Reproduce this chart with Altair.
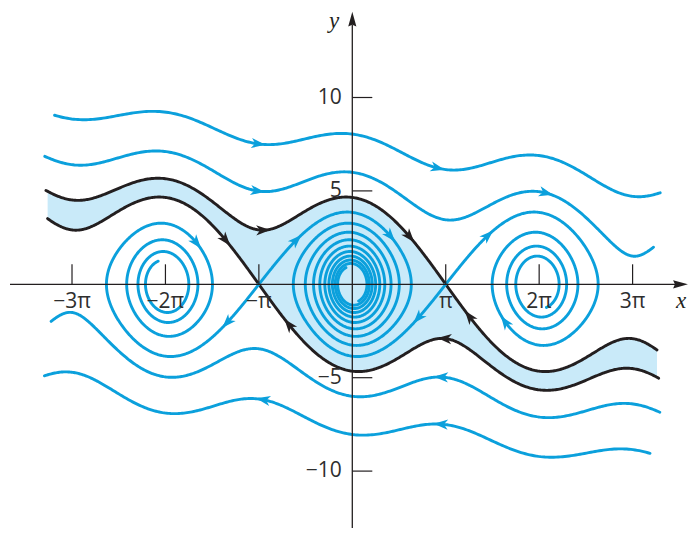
import math
import numpy as np
import pandas as pd
import altair as alt

# ---------------- model: x' = y, y' = -w2*sin(x) - g*y
OMEGA2 = 4.5
GAMMA = 0.2

# ---------------- trajectories (start points / end x)
wave_names = ["A", "B", "A2", "B2"]
wave_x0 = [-10.01, -10.34, 10.01, 10.34]
wave_y0 = [9.05, 6.85, -9.05, -6.85]
wave_xend = [10.35, 10.12, -10.35, -10.12]

# stable manifolds of the saddles (black separatrices)
sep_names = ["C", "D", "C2", "D2"]
sep_saddle = [math.pi, -math.pi, -math.pi, math.pi]
sep_side = [-1, -1, 1, 1]
sep_xend = [-10.29, -10.24, 10.29, 10.24]

# unstable manifolds of the saddles (blue, spiralling into the foci)
uns_names = ["U1", "U2", "U1b", "U2b"]
uns_saddle = [math.pi, math.pi, -math.pi, -math.pi]
uns_side = [1, -1, -1, 1]
uns_eend = [0.9, 0.5, 0.9, 0.5]

# arrowheads: curve, x, y (data units)
arrow_curve = ["A", "A", "B", "B", "A2", "A2", "B2", "C", "C", "D", "C2", "C2", "D2",
               "U2b", "U1", "U2", "U1b", "U2b", "U1b", "U1"]
arrow_x = [-3.161, 2.882, -3.171, 6.513, -2.993, 2.983, 2.983, -2.993, 1.940, -4.223,
           3.107, -2.095, 3.991, -1.870, 4.506, 2.165, -4.223, 1.325, -5.188, 5.124]
arrow_y = [7.516, 6.349, 5.102, 4.904, -6.033, -7.479, -5.016, 2.998, 2.548, 2.409,
           -2.859, -2.088, -1.643, 2.372, 2.730, -1.734, -2.018, 2.639, 2.281, -2.018]

# axis ticks and labels
xtick_vals = [-3 * math.pi, -2 * math.pi, -math.pi, math.pi, 2 * math.pi, 3 * math.pi]
xtick_text = ["\u22123\u03c0", "\u22122\u03c0", "\u2212\u03c0", "\u03c0", "2\u03c0", "3\u03c0"]
ytick_vals = [10, 5, -5, -10]
ytick_text = ["10", "5", "\u22125", "\u221210"]

# ---------------- style
BLUE = "#0ba0dc"
BLACK = "#231f20"
FILL = "#c9eaf9"
TEXT = "#2e2e2e"
W, H = 680, 520
PX_X, PX_Y = 29.74, 18.68          # pixels per data unit
X_DOMAIN = [-344.3 / PX_X, (W - 344.3) / PX_X]
Y_DOMAIN = [(276.3 - H) / PX_Y, 276.3 / PX_Y]


def rhs(x, y):
    return y, -OMEGA2 * math.sin(x) - GAMMA * y


def rk4(x, y, h):
    k1x, k1y = rhs(x, y)
    k2x, k2y = rhs(x + h / 2 * k1x, y + h / 2 * k1y)
    k3x, k3y = rhs(x + h / 2 * k2x, y + h / 2 * k2y)
    k4x, k4y = rhs(x + h * k3x, y + h * k3y)
    return (x + h / 6 * (k1x + 2 * k2x + 2 * k3x + k4x),
            y + h / 6 * (k1y + 2 * k2y + 2 * k3y + k4y))


def run(x, y, h, stop, nmax=400000):
    xs, ys = [x], [y]
    for _ in range(nmax):
        x, y = rk4(x, y, h)
        xs.append(x)
        ys.append(y)
        if stop(x, y):
            break
    return np.array(xs), np.array(ys)


def energy(x, y):
    return y * y / 2 + OMEGA2 * (1 - math.cos(x))


disc = math.sqrt(GAMMA ** 2 + 4 * OMEGA2)
lam_s = (-GAMMA - disc) / 2
lam_u = (-GAMMA + disc) / 2
EPS = 1e-6

curves = {}
kinds = {}
for n, x0, y0, xe in zip(wave_names, wave_x0, wave_y0, wave_xend):
    stop = (lambda x, y, xe=xe: x > xe) if xe > x0 else (lambda x, y, xe=xe: x < xe)
    curves[n] = run(x0, y0, 0.004, stop)
    kinds[n] = "blue"
for n, s, side, xe in zip(sep_names, sep_saddle, sep_side, sep_xend):
    stop = (lambda x, y, xe=xe: x < xe) if side < 0 else (lambda x, y, xe=xe: x > xe)
    curves[n] = run(s + side * EPS, side * EPS * lam_s, -0.004, stop)
    kinds[n] = "black"
for n, s, side, ee in zip(uns_names, uns_saddle, uns_side, uns_eend):
    curves[n] = run(s + side * EPS, side * EPS * lam_u, 0.004,
                    lambda x, y, ee=ee: energy(x, y) < ee)
    kinds[n] = "blue"

rows = []
for n, (xs, ys) in curves.items():
    step = 2
    idx = list(range(0, len(xs), step))
    if idx[-1] != len(xs) - 1:
        idx.append(len(xs) - 1)
    for k, i in enumerate(idx):
        rows.append({"curve": n, "kind": kinds[n], "i": k, "x": xs[i], "y": ys[i]})
lines_df = pd.DataFrame(rows)


# ---------------- shaded basin of attraction
def on_grid(name, grid):
    xs, ys = curves[name]
    o = np.argsort(xs)
    return np.interp(grid, xs[o], ys[o])


gx0 = max(curves["C"][0].min(), curves["D"][0].min())
gx1 = min(curves["C2"][0].max(), curves["D2"][0].max())
grid = np.sort(np.concatenate([np.linspace(gx0, gx1, 900), [-math.pi, math.pi]]))
upper = np.where(grid < math.pi, on_grid("C", grid), on_grid("D2", grid))
lower = np.where(grid < -math.pi, on_grid("D", grid), on_grid("C2", grid))
shade_df = pd.DataFrame({"x": grid, "lo": lower, "hi": upper})

# ---------------- arrowheads on curves
arows = []
for n, ax, ay in zip(arrow_curve, arrow_x, arrow_y):
    xs, ys = curves[n]
    d = ((xs - ax) * PX_X) ** 2 + ((ys - ay) * PX_Y) ** 2
    j = int(np.argmin(d))
    px, py = xs[j], ys[j]
    vx, vy = rhs(px, py)
    ang = math.degrees(math.atan2(-vy * PX_Y, vx * PX_X)) % 360
    arows.append({"x": px, "y": py, "angle": ang, "kind": kinds[n]})
arrows_df = pd.DataFrame(arows)

xs_ = alt.Scale(domain=X_DOMAIN, nice=False, zero=False)
ys_ = alt.Scale(domain=Y_DOMAIN, nice=False, zero=False)
color_scale = alt.Scale(domain=["blue", "black"], range=[BLUE, BLACK])


def X(f):
    return alt.X(f, type="quantitative", scale=xs_, axis=None)


def Y(f):
    return alt.Y(f, type="quantitative", scale=ys_, axis=None)


area = alt.Chart(shade_df).mark_area(color=FILL, interpolate="linear").encode(
    x=X("x"), y=Y("lo"), y2="hi")

lines = alt.Chart(lines_df).mark_line(strokeWidth=2.9, strokeCap="round", strokeJoin="round").encode(
    x=X("x"), y=Y("y"), detail="curve:N", order="i:Q",
    color=alt.Color("kind:N", scale=color_scale, legend=None))

ARROW = "M1,0L-1,-0.72L-0.45,0L-1,0.72Z"
arrows = alt.Chart(arrows_df).mark_point(shape=ARROW, filled=True, size=200, opacity=1,
                                         strokeWidth=0).encode(
    x=X("x"), y=Y("y"), angle=alt.Angle("angle:Q", scale=None),
    color=alt.Color("kind:N", scale=color_scale, legend=None))

# axes
x_axis_left, x_axis_right = (10 - 352.3) / PX_X, (678 - 352.3) / PX_X
y_axis_bottom, y_axis_top = Y_DOMAIN[0], (284.3 - 25) / PX_Y
axis_df = pd.DataFrame([
    {"x": x_axis_left, "x2": x_axis_right, "y": 0.0, "y2": 0.0},
    {"x": 0.0, "x2": 0.0, "y": y_axis_bottom, "y2": y_axis_top},
])
axes = alt.Chart(axis_df).mark_rule(color=BLACK, strokeWidth=1.3).encode(
    x=X("x"), x2="x2", y=Y("y"), y2="y2")

tick_len_y = 20 / PX_Y
tick_len_x = 20 / PX_X
xt_df = pd.DataFrame({"x": xtick_vals, "y": 0.0, "y2": tick_len_y, "t": xtick_text})
yt_df = pd.DataFrame({"y": ytick_vals, "x": 0.0, "x2": tick_len_x, "t": ytick_text})
xticks = alt.Chart(xt_df).mark_rule(color=BLACK, strokeWidth=1.2).encode(
    x=X("x"), y=Y("y"), y2="y2")
yticks = alt.Chart(yt_df).mark_rule(color=BLACK, strokeWidth=1.2).encode(
    x=X("x"), x2="x2", y=Y("y"))

xlab_y = -17.5 / PX_Y
ylab_x = -10.6 / PX_X
xlabels = alt.Chart(xt_df).transform_calculate(ly=str(xlab_y)).mark_text(
    font="Open Sans", fontSize=21, color=TEXT, align="center", baseline="middle").encode(
    x=X("x"), y=Y("ly"), text="t:N")
ylabels = alt.Chart(yt_df).transform_calculate(lx=str(ylab_x)).mark_text(
    font="Open Sans", fontSize=21, color=TEXT, align="right", baseline="middle").encode(
    x=X("lx"), y=Y("y"), text="t:N")

head_df = pd.DataFrame([
    {"x": (680.5 - 352.3) / PX_X, "y": 0.0, "angle": 0},
    {"x": 0.0, "y": (284.3 - 19.2) / PX_Y, "angle": 270},
])
heads = alt.Chart(head_df).mark_point(shape="M1,0L-1,-0.55L-0.75,0L-1,0.55Z", filled=True,
                                      size=220, opacity=1, strokeWidth=0, color=BLACK).encode(
    x=X("x"), y=Y("y"), angle=alt.Angle("angle:Q", scale=None))

title_df = pd.DataFrame([
    {"x": (681 - 352.3) / PX_X, "y": (284.3 - 301) / PX_Y, "t": "x"},
    {"x": (334 - 352.3) / PX_X, "y": (284.3 - 21) / PX_Y, "t": "y"},
])
titles = alt.Chart(title_df).mark_text(font="Liberation Serif", fontStyle="italic", fontSize=23,
                                       color=BLACK, align="center", baseline="middle").encode(
    x=X("x"), y=Y("y"), text="t:N")

chart = alt.layer(area, lines, axes, xticks, yticks, xlabels, ylabels, heads, titles, arrows).properties(
    width=W, height=H, padding=0, autosize="none").configure_view(stroke=None)

chart.save("out.html", embed_options={"renderer": "svg", "actions": False})
